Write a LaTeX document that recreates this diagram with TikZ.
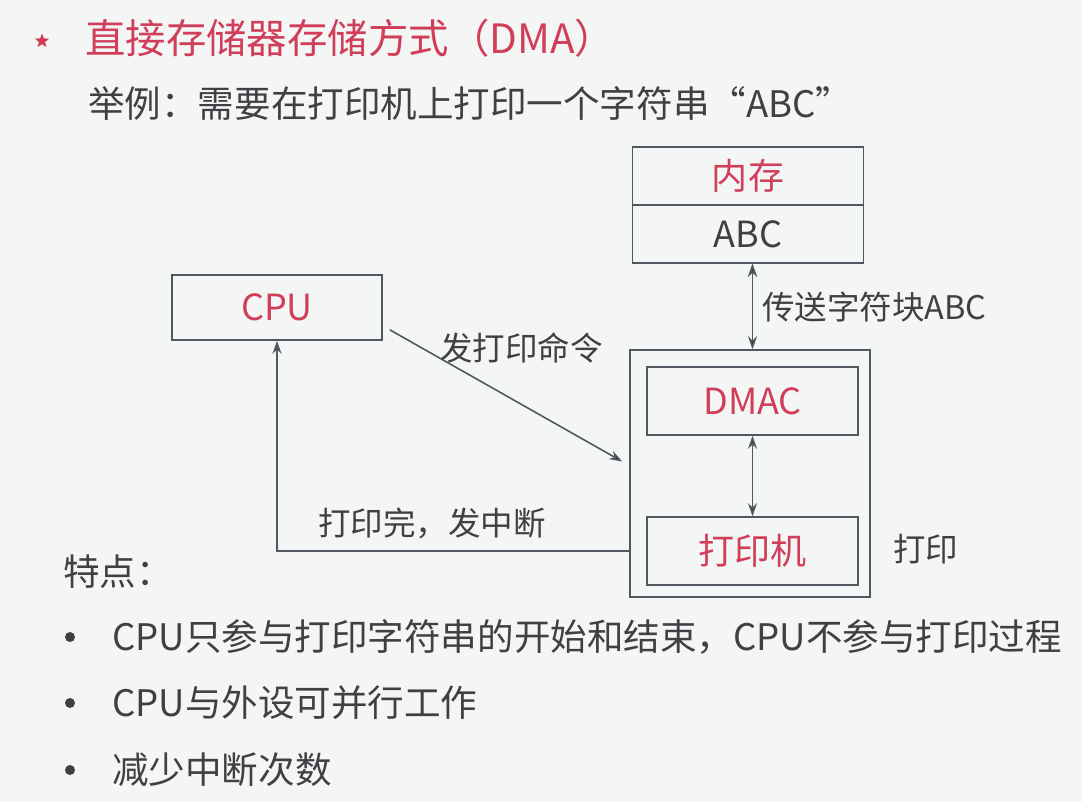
\documentclass[tikz,border=0pt]{standalone}
\usepackage{fontspec}
\setmainfont{Noto Sans CJK SC}
\usetikzlibrary{arrows,arrows.meta,calc,shapes.geometric}
\definecolor{slidebg}{RGB}{244,246,246}
\definecolor{lineg}{RGB}{78,88,94}
\definecolor{textg}{RGB}{62,64,68}
\definecolor{titlered}{RGB}{208,62,90}
\tikzset{
  box/.style={draw=lineg,line width=0.9pt,inner sep=0pt,text=titlered,font=\fontsize{20.5pt}{24pt}\selectfont},
  lbl/.style={anchor=west,inner sep=0pt,text=textg,font=\fontsize{18.5pt}{22pt}\selectfont},
  body/.style={anchor=west,inner sep=0pt,text=textg,font=\fontsize{20.8pt}{24pt}\selectfont},
  dot/.style={circle,fill=textg,inner sep=0pt,minimum size=0.2cm},
  tip/.style={-{Stealth[length=0.26cm,width=0.18cm]}},
  tips/.style={{Stealth[length=0.26cm,width=0.18cm]}-{Stealth[length=0.26cm,width=0.18cm]}},
  conn/.style={draw=lineg,line width=0.9pt,tip}
}
\begin{document}
\begin{tikzpicture}[x=0.02cm,y=-0.02cm]
  \fill[slidebg] (0,0) rectangle (1082,802);
  \useasboundingbox (0,0) rectangle (1082,802);
  % heading
  \node (star) [star,star points=5,star point ratio=2.3,fill=titlered,inner sep=0pt,minimum size=0.3cm] at (42,41) {};
  \node (title) [anchor=west,inner sep=0pt,text=titlered,font=\fontsize{23pt}{27pt}\selectfont] at (85,38) {直接存储器存储方式（DMA）};
  \node (example) [body] at (88,103) {举例：需要在打印机上打印一个字符串“ABC”};
  % boxes
  \node (memtop) [box,minimum width=4.62cm,minimum height=1.16cm] at (748,176) {内存};
  \node (membot) [box,minimum width=4.62cm,minimum height=1.16cm,text=textg] at (748,234) {ABC};
  \node (cpu) [box,minimum width=4.2cm,minimum height=1.3cm] at (277,307.5) {CPU};
  \node (dev) [box,minimum width=4.8cm,minimum height=4.94cm] at (750,473.5) {};
  \node (dmac) [box,minimum width=4.22cm,minimum height=1.36cm] at (752.5,401) {DMAC};
  \node (printer) [box,minimum width=4.22cm,minimum height=1.36cm] at (752.5,551) {打印机};
  % connectors
  \coordinate (cmdstart) at ($(cpu.south east)+(7,-11)$);
  \coordinate (cmdend) at ($(dev.west)+(-7,-12)$);
  \path[conn]
    (cmdstart) edge (cmdend)
    (membot.south -| dmac) edge[tips] (dev.north -| dmac)
    (dmac) edge[tips] (printer);
  \draw[conn] (dev.west |- printer) -| (cpu.south);
  % labels
  \node (sendlbl) [lbl] at (762,307) {传送字符块ABC};
  \node (cmdlbl) [lbl] at (440,348) {发打印命令};
  \node (donelbl) [lbl] at (318,523) {打印完，发中断};
  \node (printlbl) [lbl] at (893,549) {打印};
  % features
  \node (feat) [body] at (63,572) {特点：};
  \node (dota) [dot] at (70,637) {};
  \node (dotb) [dot] at (70,703) {};
  \node (dotc) [dot] at (70,770) {};
  \node (feata) [body] at (112,637) {CPU只参与打印字符串的开始和结束，CPU不参与打印过程};
  \node (featb) [body] at (112,703) {CPU与外设可并行工作};
  \node (featc) [body] at (112,770) {减少中断次数};
\end{tikzpicture}
\end{document}
